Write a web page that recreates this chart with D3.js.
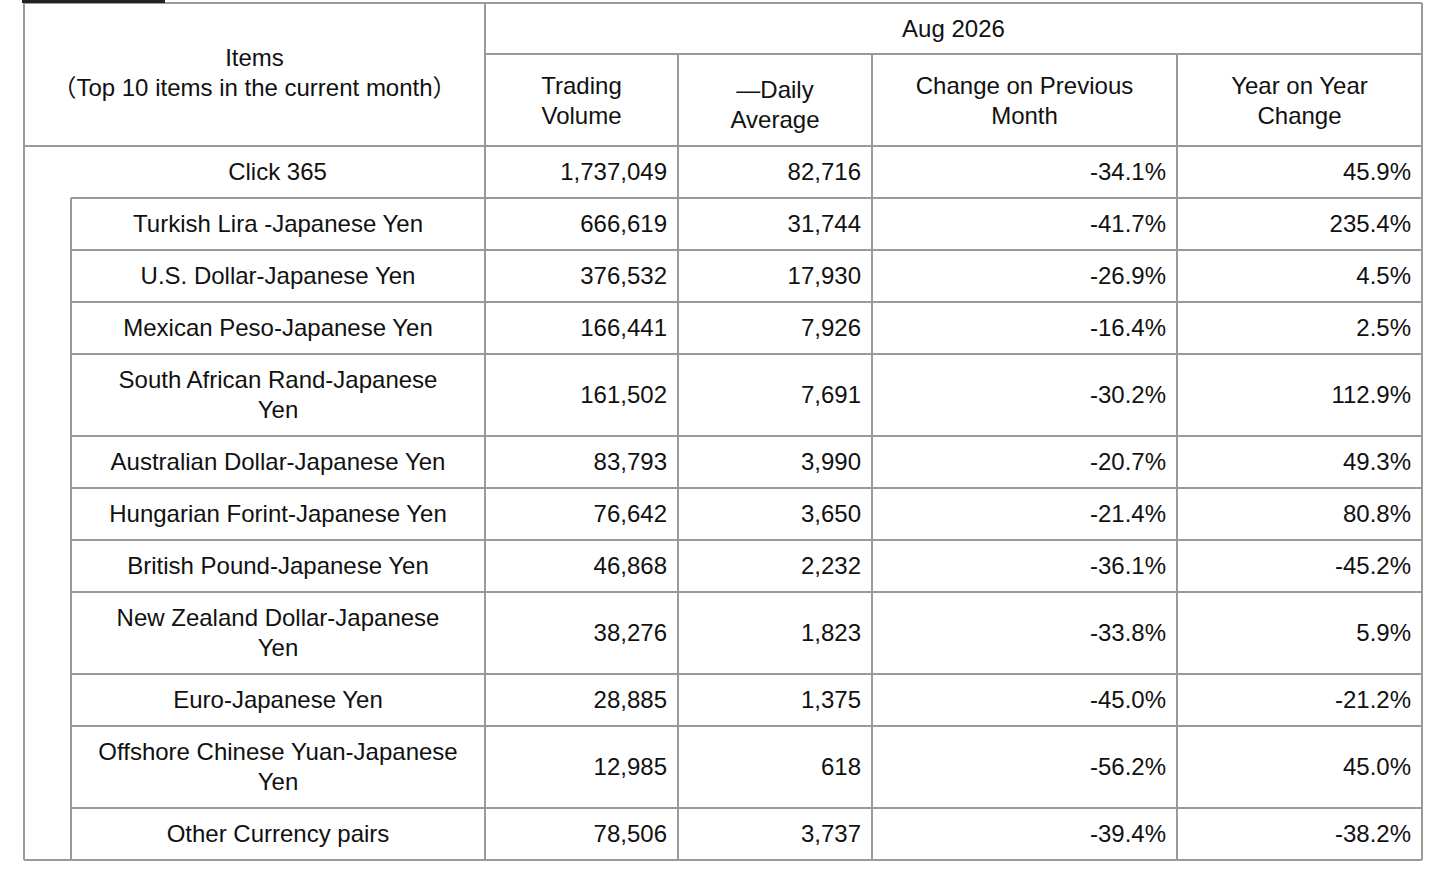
<!DOCTYPE html>
<html>
<head>
<meta charset="utf-8">
<script src="https://cdn.jsdelivr.net/npm/d3@7"></script>
<style>
  body { margin: 0; background: #fff; }
  svg text { font-family: "Liberation Sans", Arial, Helvetica, "Noto Sans CJK JP", sans-serif; font-size: 24px; fill: #111; }
</style>
</head>
<body>
<svg id="chart" width="1438" height="884"></svg>
<script>
// data
var period = "Aug 2026"
var items = ["Click 365", "Turkish Lira -Japanese Yen", "U.S. Dollar-Japanese Yen", "Mexican Peso-Japanese Yen",
  "South African Rand-Japanese|Yen", "Australian Dollar-Japanese Yen", "Hungarian Forint-Japanese Yen",
  "British Pound-Japanese Yen", "New Zealand Dollar-Japanese|Yen", "Euro-Japanese Yen",
  "Offshore Chinese Yuan-Japanese|Yen", "Other Currency pairs"]
var volume = ["1,737,049", "666,619", "376,532", "166,441", "161,502", "83,793", "76,642", "46,868", "38,276", "28,885", "12,985", "78,506"]
var daily = ["82,716", "31,744", "17,930", "7,926", "7,691", "3,990", "3,650", "2,232", "1,823", "1,375", "618", "3,737"]
var momChange = ["-34.1%", "-41.7%", "-26.9%", "-16.4%", "-30.2%", "-20.7%", "-21.4%", "-36.1%", "-33.8%", "-45.0%", "-56.2%", "-39.4%"]
var yoyChange = ["45.9%", "235.4%", "4.5%", "2.5%", "112.9%", "49.3%", "80.8%", "-45.2%", "5.9%", "-21.2%", "45.0%", "-38.2%"]
var colHeads = ["Trading|Volume", "\u2014Daily|Average", "Change on Previous|Month", "Year on Year|Change"]

var svg = d3.select("#chart")
var lineColor = "#9a9a9a"
var L = 24, R = 1422, topY = 3, midHead = 54, headBottom = 146, indent = 71
// column boundaries
var edges = [L, 485, 678, 872, 1177, R]

// row heights from line count
var rowH = items.map(function (d) { return d.split("|").length > 1 ? 82 : 52 })
var ys = [headBottom]
rowH.forEach(function (h, i) { ys.push(ys[i] + h) })
var bottom = ys[ys.length - 1]

var g = svg.append("g")
function hl(x1, x2, y) { g.append("line").attr("x1", x1).attr("x2", x2).attr("y1", y).attr("y2", y).attr("stroke", lineColor).attr("stroke-width", 2) }
function vl(x, y1, y2) { g.append("line").attr("x1", x).attr("x2", x).attr("y1", y1).attr("y2", y2).attr("stroke", lineColor).attr("stroke-width", 2) }

// clipped fragment at very top
svg.append("rect").attr("x", 22).attr("y", 0).attr("width", 143).attr("height", 3).attr("fill", "#222")

// frame and header
hl(L, R, topY); hl(L, R, headBottom); hl(edges[1], R, midHead); hl(L, R, bottom)
vl(L, topY, bottom); vl(R, topY, bottom)
vl(edges[1], topY, bottom)
edges.slice(2, 5).forEach(function (x) { vl(x, midHead, bottom) })
// sub-rows
ys.slice(1, -1).forEach(function (y) { hl(indent, R, y) })
vl(indent, ys[1], bottom)

function multi(x, yc, txt, anchor) {
  var parts = txt.split("|"), lh = 30
  var t = svg.append("text").attr("text-anchor", anchor)
  parts.forEach(function (p, i) {
    t.append("tspan").attr("x", x).attr("y", yc + (i - (parts.length - 1) / 2) * lh).attr("dy", "0.35em").text(p)
  })
  return t
}

multi((L + edges[1]) / 2, 73, "Items|\uFF08Top 10 items in the current month\uFF09", "middle")
multi((edges[1] + R) / 2, (topY + midHead) / 2, period, "middle")
colHeads.forEach(function (h, i) {
  multi((edges[i + 1] + edges[i + 2]) / 2, i === 1 ? 105 : 101, h, "middle")
})

var cols = [volume, daily, momChange, yoyChange]
items.forEach(function (it, i) {
  var yc = (ys[i] + ys[i + 1]) / 2
  var left = i === 0 ? L : indent
  multi((left + edges[1]) / 2 + (i === 0 ? 23 : 0), yc, it, "middle")
  cols.forEach(function (c, j) { multi(edges[j + 2] - 11, yc, c[i], "end") })
})
</script>
</body>
</html>
